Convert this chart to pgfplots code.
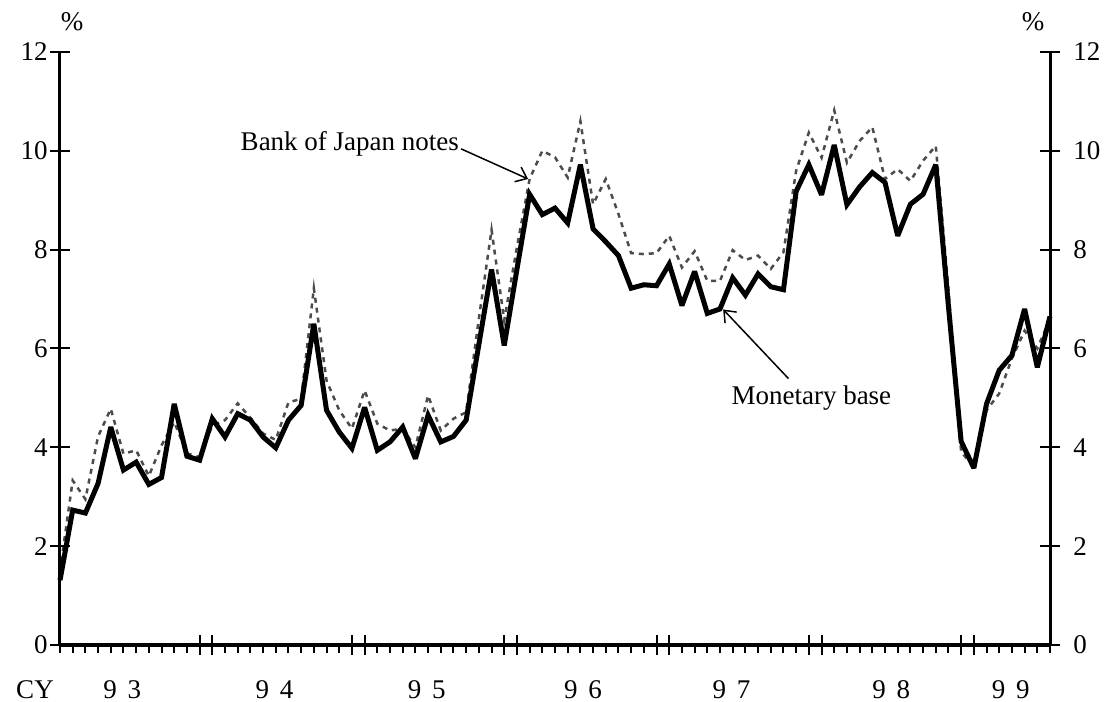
\documentclass[border=0pt]{standalone}
\usepackage{fontspec}
\setmainfont{Liberation Serif}
\usepackage{pgfplots}
\usepackage{pgfplotstable}
\pgfplotsset{compat=1.18}
\usetikzlibrary{arrows.meta}

% monthly, year-on-year %, Jan 1993 = 0
\pgfplotstableread{
i  mb     boj
0  1.31   1.50
1  2.73   3.33
2  2.67   2.95
3  3.27   4.22
4  4.41   4.78
5  3.54   3.87
6  3.70   3.94
7  3.25   3.42
8  3.39   4.04
9  4.88   4.51
10 3.82   3.88
11 3.74   3.80
12 4.58   4.44
13 4.21   4.55
14 4.68   4.89
15 4.55   4.60
16 4.21   4.28
17 3.99   4.15
18 4.55   4.91
19 4.85   4.98
20 6.50   7.22
21 4.75   5.35
22 4.31   4.75
23 3.98   4.38
24 4.81   5.15
25 3.94   4.48
26 4.11   4.34
27 4.41   4.38
28 3.77   4.00
29 4.65   5.05
30 4.11   4.34
31 4.22   4.58
32 4.55   4.71
33 6.08   6.60
34 7.60   8.40
35 6.06   6.57
36 7.60   8.05
37 9.12   9.43
38 8.71   10.00
39 8.84   9.87
40 8.54   9.46
41 9.72   10.60
42 8.42   8.92
43 8.16   9.43
44 7.88   8.72
45 7.22   7.93
46 7.29   7.91
47 7.27   7.93
48 7.71   8.28
49 6.87   7.64
50 7.56   7.97
51 6.71   7.37
52 6.80   7.37
53 7.43   7.99
54 7.08   7.79
55 7.51   7.88
56 7.25   7.61
57 7.19   7.95
58 9.18   9.60
59 9.72   10.37
60 9.11   9.86
61 10.12  10.82
62 8.91   9.76
63 9.27   10.20
64 9.56   10.48
65 9.36   9.43
66 8.28   9.63
67 8.92   9.39
68 9.12   9.80
69 9.72   10.10
70 6.85   7.20
71 4.12   3.90
72 3.58   3.62
73 4.88   4.75
74 5.56   5.09
75 5.86   5.80
76 6.80   6.36
77 5.62   6.00
78 6.65   6.60
}\rates

\pgfplotsset{
  frame/.style={
    width=495pt, height=296.5pt, scale only axis,
    xmin=0, xmax=78, ymin=0, ymax=12,
    /pgf/number format/assume math mode=true,
    axis line style={line width=1.5pt},
    tick style={black, line width=1pt},
  },
}

\begin{document}
\fontsize{13.5}{16}\selectfont
\begin{tikzpicture}
\begin{axis}[frame,
  axis x line*=bottom, axis y line=none,
  xtick={0,...,78}, xticklabels={},
  tick align=outside, major tick length=4pt,
  clip=false]
  \addplot[color=black!70, line width=1.25pt, dash pattern=on 2.5pt off 2.5pt] table[x=i, y=boj] {\rates};
  \addplot[black, line width=2.5pt, line join=miter, miter limit=3] table[x=i, y=mb] {\rates};

  \node[anchor=west] at (axis cs:13.5,10.14) {Bank of Japan notes};
  \draw[line width=0.75pt, -{Straight Barb[length=5pt,width=8pt]}] (axis cs:31.6,10.04) -- (axis cs:36.88,9.43);
  \node[anchor=west] at (axis cs:52.17,5.0) {Monetary base};
  \draw[line width=0.75pt, -{Straight Barb[length=5pt,width=8pt]}] (axis cs:57.4,5.39) -- (axis cs:52.25,6.79);

  \node at (axis cs:4.9,0)  [yshift=-22.5pt] {9\hspace{0.4em}3};
  \node at (axis cs:16.9,0) [yshift=-22.5pt] {9\hspace{0.4em}4};
  \node at (axis cs:28.9,0) [yshift=-22.5pt] {9\hspace{0.4em}5};
  \node at (axis cs:41.2,0) [yshift=-22.5pt] {9\hspace{0.4em}6};
  \node at (axis cs:52.9,0) [yshift=-22.5pt] {9\hspace{0.4em}7};
  \node at (axis cs:65.5,0) [yshift=-22.5pt] {9\hspace{0.4em}8};
  \node at (axis cs:74.9,0) [yshift=-22.5pt] {9\hspace{0.4em}9};
  \node at (rel axis cs:0,0) [xshift=-12.5pt, yshift=-22.5pt] {CY};
  \node at (rel axis cs:0,1) [xshift=6pt, yshift=15pt] {\%};
  \node at (rel axis cs:1,1) [xshift=-8.5pt, yshift=15pt] {\%};

  \coordinate (bl) at (rel axis cs:0,0);
  \coordinate (tr) at (rel axis cs:1,1);
\end{axis}
\begin{axis}[frame,
  axis x line*=bottom, axis y line*=left,
  xtick={11,12,23,24,35,36,47,48,59,60,71,72}, xticklabels={},
  ytick={0,2,...,12},
  yticklabel style={xshift=3.5pt},
  tick align=center, major tick length=10pt]
\end{axis}
\begin{axis}[frame,
  axis x line=none, axis y line*=right,
  ytick={0,2,...,12},
  yticklabel style={xshift=2pt},
  tick align=center, major tick length=10pt]
\end{axis}
\pgfresetboundingbox
\path[use as bounding box] ([shift={(-30pt,-28.5pt)}]bl) rectangle ([shift={(27pt,26pt)}]tr);
\end{tikzpicture}
\end{document}
